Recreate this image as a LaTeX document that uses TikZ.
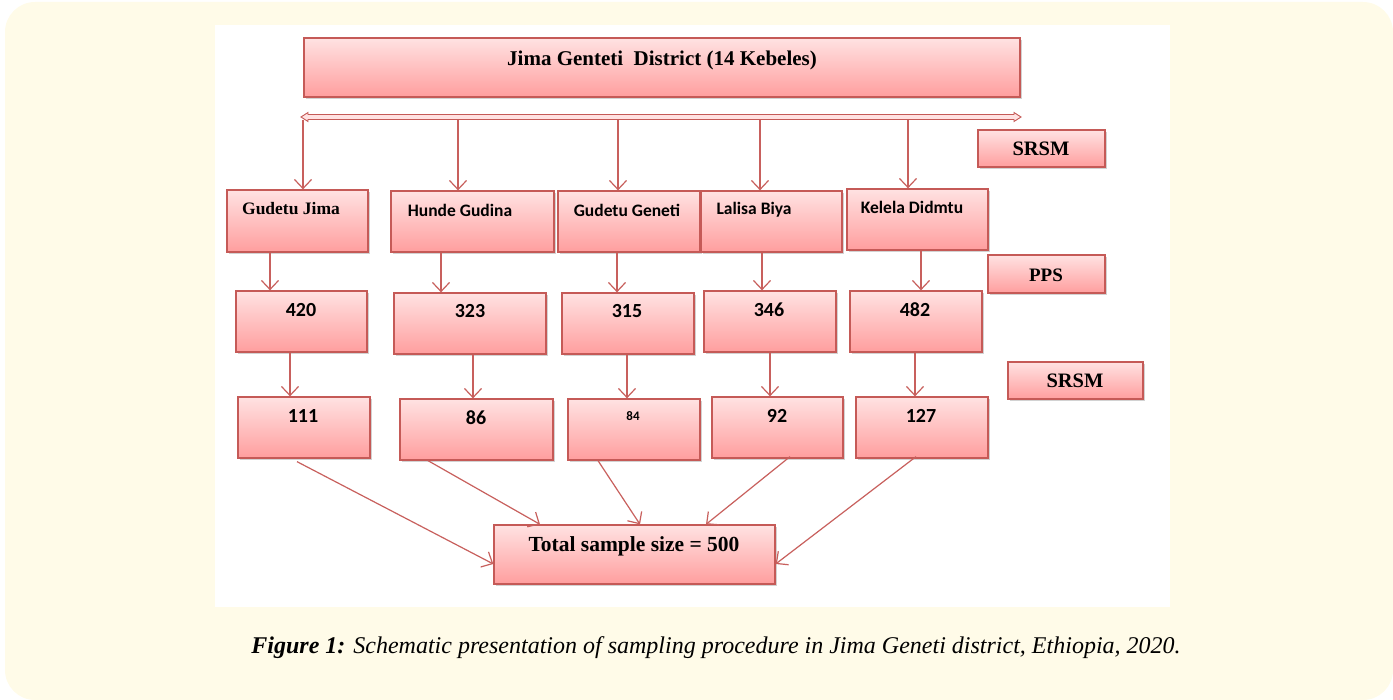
\documentclass[tikz,border=0pt]{standalone}
\usepackage{fontspec}
\setmainfont{Liberation Serif}
\newfontfamily\calfont{Carlito}
\usetikzlibrary{arrows.meta,fit,shadows,calc}
\definecolor{cream}{HTML}{FFFBE8}
\definecolor{edge}{HTML}{C55A57}
\definecolor{topc}{HTML}{FFE2E2}
\definecolor{botc}{HTML}{FF9E9E}
\definecolor{arrc}{HTML}{C8605D}
\tikzset{
  box/.style={draw=edge, line width=1.3pt, top color=topc, bottom color=botc, inner sep=0pt,
     drop shadow={shadow xshift=2pt, shadow yshift=-2pt, opacity=0.35, fill=gray}},
  arr/.style={draw=arrc, line width=1.2pt, -{Straight Barb[length=9pt,width=17pt,line width=1.2pt]}},
  sert/.style={font=\bfseries\fontsize{20.5}{24}\selectfont},
  calt/.style={font=\calfont\bfseries\fontsize{17.5}{21}\selectfont},
  numt/.style={font=\calfont\bfseries\fontsize{20}{24}\selectfont},
}
\newcommand\bx[5]{\node[box, fit={(#2,#3) (#4,#5)}] (#1) {};}
\begin{document}
\begin{tikzpicture}[x=1pt,y=-1pt]
\useasboundingbox (0,0) rectangle (1393,700);
\fill[cream, rounded corners=30pt] (5,2) rectangle (1393,700);
\fill[white] (215,25) rectangle (1170,607);
% boxes
\bx{top}{304}{38}{1020}{97}
\bx{srsmA}{978}{130}{1105}{167}
\bx{gj}{227}{190}{368}{252}
\bx{hg}{391}{191}{554}{252}
\bx{gg}{558}{191}{700}{252}
\bx{lb}{701}{191}{842}{252}
\bx{kd}{847}{189}{988}{250}
\bx{pps}{988}{255}{1105}{293}
\bx{na}{236}{291}{367}{352}
\bx{nb}{394}{293}{546}{354}
\bx{nc}{562}{293}{694}{354}
\bx{nd}{704}{291}{836}{352}
\bx{ne}{850}{291}{982}{352}
\bx{srsmB}{1008}{362}{1143}{399}
\bx{sa}{238}{397}{370}{458}
\bx{sb}{400}{399}{553}{460}
\bx{sc}{568}{399}{700}{460}
\bx{sd}{712}{397}{843}{458}
\bx{se}{856}{397}{988}{458}
\bx{tot}{494}{525}{775}{584}
% texts
\node[font=\bfseries\fontsize{21}{25}\selectfont] (ttop) at (662,60) {Jima Genteti\ \ District (14 Kebeles)};
\node[sert] (tsA) at (1041,149) {SRSM};
\node[font=\bfseries\fontsize{19}{23}\selectfont] (tpps) at (1046,275) {PPS};
\node[sert] (tsB) at (1075,381) {SRSM};
\node[font=\bfseries\fontsize{17.5}{21}\selectfont] (tgj) at (291,209) {Gudetu Jima};
\node[calt] (thg) at (460,210) {Hunde Gudina};
\node[calt] (tgg) at (627,210) {Gudetu Geneti};
\node[calt] (tlb) at (754,210) {Lalisa Biya};
\node[calt] (tkd) at (912,207) {Kelela Didmtu};
\node[numt] (tna) at (301,310) {420};
\node[numt] (tnb) at (470,311) {323};
\node[numt] (tnc) at (627,311) {315};
\node[numt] (tnd) at (769,310) {346};
\node[numt] (tne) at (915,310) {482};
\node[numt] (tsa) at (303,416) {111};
\node[numt] (tsb) at (476,418) {86};
\node[font=\calfont\bfseries\fontsize{13}{15}\selectfont] (tsc) at (633,416) {84};
\node[numt] (tsd) at (777,416) {92};
\node[numt] (tse) at (921,416) {127};
\node[font=\bfseries\fontsize{21.5}{25}\selectfont] (ttot) at (634,546) {Total sample size = 500};
\node (cap) at (716,648) {\fontsize{24}{28}\selectfont\itshape\textbf{Figure 1:} Schematic presentation of sampling procedure in Jima Geneti district, Ethiopia, 2020.};
% double-headed bar
\coordinate (barL) at (301,117);
\coordinate (barR) at (1021,117);
\draw[edge, line width=0.9pt, fill=topc]
  (barL) -- ++(7,-4.5) -- ++(0,2) -- ($(barR)+(-7,-2.5)$) -- ++(0,-2) -- (barR)
  -- ++(-7,4.5) -- ++(0,-2) -- ($(barL)+(7,2.5)$) -- ++(0,2) -- cycle;
% x coordinates for the arrows
\foreach \n/\x in {a/303,b/458,c/618,d/760,e/908,f/270,g/441,h/617,i/762,j/921,k/290,l/473,m/627,n/770,o/915}
  \coordinate (x\n) at (\x,120);
\draw[arr] (xa) -- (xa |- gj.north);
\draw[arr] (xb) -- (xb |- hg.north);
\draw[arr] (xc) -- (xc |- gg.north);
\draw[arr] (xd) -- (xd |- lb.north);
\draw[arr] (xe) -- (xe |- kd.north);
\draw[arr] (xf |- gj.south) -- (xf |- na.north);
\draw[arr] (xg |- hg.south) -- (xg |- nb.north);
\draw[arr] (xh |- gg.south) -- (xh |- nc.north);
\draw[arr] (xi |- lb.south) -- (xi |- nd.north);
\draw[arr] (xj |- kd.south) -- (xj |- ne.north);
\draw[arr] (xk |- na.south) -- (xk |- sa.north);
\draw[arr] (xl |- nb.south) -- (xl |- sb.north);
\draw[arr] (xm |- nc.south) -- (xm |- sc.north);
\draw[arr] (xn |- nd.south) -- (xn |- sd.north);
\draw[arr] (xo |- ne.south) -- (xo |- se.north);
% to total
\draw[arr] ([xshift=-7pt,yshift=-3pt]sa.south) -- ([yshift=-9.5pt]tot.west);
\draw[arr] ([xshift=-48.5pt]sb.south) -- ([xshift=-94.5pt]tot.north);
\draw[arr] ([xshift=-36pt]sc.south) -- ([xshift=5.5pt]tot.north);
\draw[arr] ([xshift=12.5pt,yshift=2pt]sd.south) -- ([xshift=71.5pt]tot.north);
\draw[arr] ([xshift=-6pt,yshift=2pt]se.south) -- ([yshift=-9.5pt]tot.east);
\end{tikzpicture}
\end{document}
